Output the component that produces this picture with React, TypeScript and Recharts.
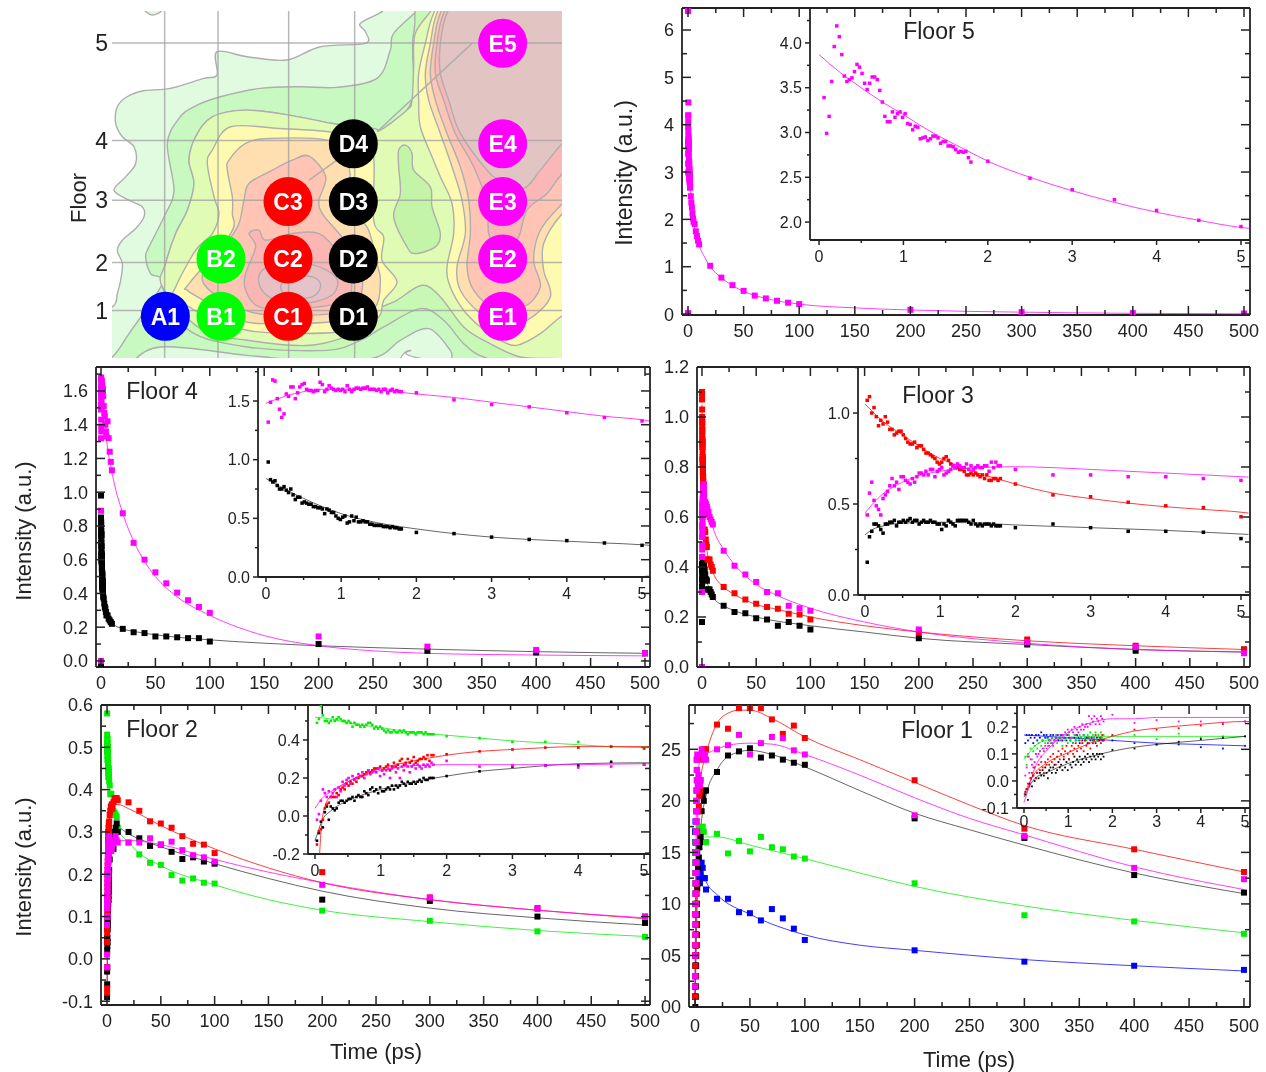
import React from "react";
import { ScatterChart, Scatter, XAxis, YAxis } from "recharts";

// shared time grids (ps)
const T_DENSE = [0.03, 0.06, 0.09, 0.12, 0.15, 0.18, 0.21, 0.24, 0.27, 0.3, 0.33, 0.36, 0.39, 0.42, 0.45, 0.48, 0.51, 0.54, 0.57, 0.6, 0.63, 0.66, 0.69, 0.72, 0.75, 0.78, 0.81, 0.84, 0.87, 0.9, 0.93, 0.96, 0.99, 1.02, 1.05, 1.08, 1.11, 1.14, 1.17, 1.2, 1.23, 1.26, 1.29, 1.32, 1.35, 1.38, 1.41, 1.44, 1.47, 1.5, 1.53, 1.56, 1.59, 1.62, 1.65, 1.68, 1.71, 1.74, 1.77, 1.8];
const T_INSET = [2, 2.5, 3, 3.5, 4, 4.5, 5];
const T_LONG = [6, 7, 8, 9, 10, 20, 30, 40, 50, 60, 70, 80, 90, 100, 200, 300, 400, 500];

const MAGENTA = "#ff00ff";
const RED = "#ff0000";
const BLACK = "#000000";
const GREEN = "#00ee00";
const BLUE = "#0000ff";

type Pair = [number, number];

// Floor 5
const F5_M = [3.39, 2.99, 3.18, 3.57, 3.96, 4.19, 4.07, 3.87, 3.63, 3.57, 3.59, 3.61, 3.68, 3.76, 3.73, 3.66, 3.55, 3.48, 3.55, 3.62, 3.62, 3.59, 3.47, 3.34, 3.18, 3.12, 3.12, 3.23, 3.17, 3.21, 3.23, 3.17, 3.21, 3.1, 3.09, 3.03, 3.07, 3.06, 2.93, 2.94, 2.95, 2.91, 2.93, 2.96, 2.96, 2.94, 2.88, 2.9, 2.9, 2.85, 2.85, 2.84, 2.81, 2.78, 2.79, 2.78, 2.79, 2.72, 2.67];
const F5_M_TAIL = [2.68, 2.49, 2.36, 2.25, 2.13, 2.02, 1.95];
const F5_M_LONG = [1.9, 1.75, 1.65, 1.55, 1.47, 1.02, 0.77, 0.61, 0.49, 0.39, 0.33, 0.28, 0.24, 0.21, 0.09, 0.04, 0.02, 0.01];
const F5_M_EARLY: Pair[] = [[0, 0.02], [0, 6.4], [0.3, 4.47], [0.2, 4.2]];
const F5_M_FIT: Pair[] = [[0.1, 4], [1, 3.2], [2, 2.68], [3, 2.36], [5, 1.95], [7, 1.7], [10, 1.45], [15, 1.2], [20, 1], [30, 0.77], [40, 0.6], [50, 0.48], [70, 0.33], [100, 0.21], [150, 0.13], [200, 0.085], [300, 0.04], [400, 0.015], [500, 0.005]];
const F5_M_INSET_FIT: Pair[] = [[0, 3.87], [0.25, 3.67], [0.5, 3.5], [0.75, 3.34], [1, 3.2], [1.25, 3.05], [1.5, 2.92], [1.75, 2.8], [2, 2.68], [2.5, 2.5], [3, 2.35], [3.5, 2.22], [4, 2.11], [4.5, 2.02], [5, 1.94], [5.1, 1.93]];

// Floor 4
const F4_M = [1.32, 1.49, 1.68, 1.67, 1.52, 1.43, 1.36, 1.39, 1.56, 1.54, 1.62, 1.62, 1.52, 1.57, 1.62, 1.64, 1.65, 1.6, 1.59, 1.59, 1.58, 1.59, 1.59, 1.66, 1.64, 1.58, 1.6, 1.63, 1.61, 1.6, 1.59, 1.6, 1.59, 1.6, 1.58, 1.63, 1.6, 1.58, 1.6, 1.61, 1.61, 1.6, 1.61, 1.61, 1.62, 1.6, 1.6, 1.6, 1.59, 1.6, 1.58, 1.6, 1.6, 1.57, 1.59, 1.6, 1.58, 1.59, 1.58, 1.58];
const F4_M_TAIL = [1.57, 1.51, 1.47, 1.45, 1.4, 1.36, 1.33];
const F4_M_LONG = [1.42, 1.32, 1.24, 1.18, 1.13, 0.875, 0.7, 0.6, 0.525, 0.46, 0.405, 0.36, 0.32, 0.285, 0.145, 0.085, 0.065, 0.045];
const F4_M_EARLY: Pair[] = [[0, 0], [0, 0.89]];
const F4_K = [0.98, 0.83, 0.81, 0.82, 0.78, 0.75, 0.75, 0.77, 0.74, 0.72, 0.75, 0.7, 0.66, 0.68, 0.68, 0.63, 0.64, 0.63, 0.62, 0.62, 0.6, 0.6, 0.59, 0.59, 0.58, 0.54, 0.58, 0.57, 0.55, 0.55, 0.52, 0.5, 0.49, 0.51, 0.52, 0.46, 0.47, 0.52, 0.48, 0.51, 0.47, 0.47, 0.48, 0.47, 0.47, 0.45, 0.45, 0.44, 0.44, 0.44, 0.44, 0.43, 0.43, 0.43, 0.42, 0.43, 0.42, 0.42, 0.41, 0.41];
const F4_K_TAIL = [0.38, 0.37, 0.34, 0.32, 0.31, 0.29, 0.27];
const F4_K_LONG = [0.27, 0.25, 0.24, 0.23, 0.22, 0.19, 0.17, 0.165, 0.145, 0.145, 0.14, 0.135, 0.135, 0.115, 0.1, 0.06, 0.05, 0.045];
const F4_K_EARLY: Pair[] = [[0, -0.02], [0, 0.85]];
const F4_M_FIT: Pair[] = [[0.1, 1.5], [1, 1.6], [2, 1.56], [5, 1.32], [10, 1.12], [20, 0.875], [30, 0.71], [40, 0.59], [50, 0.5], [70, 0.38], [100, 0.27], [150, 0.15], [200, 0.09], [250, 0.06], [300, 0.045], [400, 0.035], [500, 0.03]];
const F4_K_FIT: Pair[] = [[0, 0.85], [1, 0.55], [2, 0.41], [3, 0.34], [5, 0.28], [10, 0.225], [20, 0.19], [30, 0.175], [50, 0.155], [100, 0.125], [150, 0.105], [200, 0.09], [300, 0.07], [400, 0.055], [500, 0.045]];
const F4_M_INSET_FIT: Pair[] = [[0, 1.48], [0.25, 1.54], [0.5, 1.58], [0.75, 1.6], [1, 1.6], [1.5, 1.59], [2, 1.56], [2.5, 1.53], [3, 1.49], [3.5, 1.45], [4, 1.41], [4.5, 1.37], [5, 1.34], [5.1, 1.33]];
const F4_K_INSET_FIT: Pair[] = [[0, 0.84], [0.25, 0.75], [0.5, 0.67], [0.75, 0.6], [1, 0.54], [1.5, 0.46], [2, 0.41], [2.5, 0.37], [3, 0.34], [3.5, 0.32], [4, 0.305], [4.5, 0.29], [5, 0.275], [5.1, 0.27]];

// Floor 3
const F3_R = [1.07, 1.09, 1, 1.03, 0.98, 0.93, 0.96, 0.94, 0.98, 0.95, 0.91, 0.91, 0.88, 0.89, 0.9, 0.9, 0.88, 0.86, 0.84, 0.83, 0.83, 0.84, 0.81, 0.82, 0.82, 0.8, 0.78, 0.78, 0.77, 0.76, 0.75, 0.73, 0.72, 0.73, 0.75, 0.76, 0.74, 0.72, 0.71, 0.7, 0.7, 0.69, 0.69, 0.68, 0.66, 0.66, 0.67, 0.66, 0.67, 0.66, 0.65, 0.66, 0.64, 0.66, 0.63, 0.63, 0.64, 0.64, 0.63, 0.64];
const F3_R_TAIL = [0.61, 0.55, 0.54, 0.51, 0.49, 0.48, 0.43];
const F3_R_LONG = [0.43, 0.43, 0.41, 0.4, 0.385, 0.32, 0.295, 0.27, 0.253, 0.24, 0.233, 0.213, 0.21, 0.19, 0.14, 0.11, 0.085, 0.07];
const F3_R_EARLY: Pair[] = [[0, 1.1]];
const F3_M = [0.44, 0.56, 0.62, 0.52, 0.49, 0.47, 0.44, 0.53, 0.55, 0.57, 0.6, 0.64, 0.6, 0.62, 0.58, 0.65, 0.65, 0.63, 0.62, 0.61, 0.64, 0.62, 0.65, 0.67, 0.67, 0.66, 0.68, 0.66, 0.69, 0.69, 0.65, 0.68, 0.69, 0.7, 0.66, 0.67, 0.68, 0.69, 0.71, 0.7, 0.72, 0.71, 0.7, 0.7, 0.72, 0.69, 0.71, 0.69, 0.7, 0.71, 0.7, 0.7, 0.71, 0.71, 0.68, 0.73, 0.7, 0.73, 0.71, 0.71];
const F3_M_TAIL = [0.69, 0.66, 0.66, 0.65, 0.65, 0.64, 0.63];
const F3_M_LONG = [0.62, 0.6, 0.59, 0.58, 0.57, 0.465, 0.405, 0.37, 0.34, 0.3, 0.295, 0.245, 0.235, 0.225, 0.15, 0.1, 0.08, 0.055];
const F3_M_EARLY: Pair[] = [[0, 0], [0, 0.3]];
const F3_K = [0.18, 0.32, 0.35, 0.39, 0.39, 0.38, 0.36, 0.34, 0.39, 0.39, 0.4, 0.4, 0.41, 0.38, 0.4, 0.4, 0.41, 0.4, 0.41, 0.42, 0.4, 0.41, 0.41, 0.39, 0.4, 0.41, 0.4, 0.4, 0.41, 0.4, 0.4, 0.39, 0.39, 0.36, 0.39, 0.38, 0.41, 0.4, 0.39, 0.38, 0.41, 0.41, 0.41, 0.41, 0.41, 0.4, 0.39, 0.41, 0.39, 0.38, 0.39, 0.38, 0.39, 0.39, 0.39, 0.38, 0.39, 0.38, 0.38, 0.38];
const F3_K_TAIL = [0.37, 0.39, 0.37, 0.35, 0.35, 0.345, 0.31];
const F3_K_LONG = [0.31, 0.31, 0.3, 0.29, 0.28, 0.245, 0.22, 0.215, 0.195, 0.19, 0.165, 0.18, 0.165, 0.15, 0.115, 0.09, 0.065, 0.07];
const F3_R_FIT: Pair[] = [[0, 1.05], [1, 0.75], [2, 0.61], [3, 0.53], [5, 0.455], [10, 0.38], [20, 0.32], [30, 0.29], [50, 0.25], [70, 0.23], [100, 0.2], [150, 0.165], [200, 0.14], [300, 0.105], [400, 0.085], [500, 0.07]];
const F3_M_FIT: Pair[] = [[1, 0.68], [2, 0.705], [3, 0.69], [5, 0.65], [10, 0.56], [20, 0.47], [30, 0.41], [50, 0.33], [70, 0.285], [100, 0.235], [150, 0.18], [200, 0.14], [300, 0.095], [400, 0.07], [500, 0.06]];
const F3_K_FIT: Pair[] = [[1, 0.4], [2, 0.385], [5, 0.335], [10, 0.28], [20, 0.245], [30, 0.225], [50, 0.2], [100, 0.165], [150, 0.14], [200, 0.115], [300, 0.09], [400, 0.07], [500, 0.06]];
const F3_R_INSET_FIT: Pair[] = [[0, 1.05], [0.25, 0.95], [0.5, 0.88], [0.75, 0.81], [1, 0.75], [1.25, 0.71], [1.5, 0.67], [1.75, 0.64], [2, 0.61], [2.5, 0.56], [3, 0.53], [3.5, 0.505], [4, 0.485], [4.5, 0.47], [5, 0.455], [5.1, 0.45]];
const F3_M_INSET_FIT: Pair[] = [[0, 0.45], [0.1, 0.5], [0.25, 0.56], [0.5, 0.62], [0.75, 0.66], [1, 0.68], [1.25, 0.695], [1.5, 0.7], [2, 0.705], [2.5, 0.7], [3, 0.69], [3.5, 0.68], [4, 0.67], [4.5, 0.66], [5, 0.65], [5.1, 0.648]];
const F3_K_INSET_FIT: Pair[] = [[0, 0.33], [0.1, 0.36], [0.25, 0.38], [0.5, 0.395], [1, 0.4], [1.5, 0.395], [2, 0.385], [3, 0.37], [4, 0.355], [5, 0.335], [5.1, 0.333]];

// Floor 2
const F2_G = [0.49, 0.51, 0.58, 0.53, 0.5, 0.5, 0.49, 0.5, 0.52, 0.5, 0.51, 0.52, 0.51, 0.5, 0.5, 0.49, 0.5, 0.49, 0.47, 0.49, 0.48, 0.48, 0.47, 0.48, 0.47, 0.48, 0.49, 0.49, 0.48, 0.46, 0.47, 0.46, 0.47, 0.46, 0.45, 0.44, 0.45, 0.44, 0.44, 0.45, 0.44, 0.44, 0.45, 0.44, 0.45, 0.44, 0.43, 0.44, 0.44, 0.44, 0.43, 0.44, 0.44, 0.44, 0.43, 0.44, 0.43, 0.43, 0.43, 0.43];
const F2_G_TAIL = [0.42, 0.41, 0.39, 0.39, 0.39, 0.365, 0.36];
const F2_G_LONG = [0.35, 0.345, 0.34, 0.335, 0.31, 0.275, 0.247, 0.227, 0.222, 0.198, 0.185, 0.19, 0.18, 0.178, 0.114, 0.09, 0.065, 0.052];
const F2_R = [-0.15, -0.08, -0.07, -0.02, 0.04, 0.06, 0.07, 0.1, 0.1, 0.1, 0.12, 0.11, 0.14, 0.15, 0.14, 0.17, 0.16, 0.18, 0.17, 0.19, 0.18, 0.2, 0.21, 0.21, 0.22, 0.23, 0.24, 0.23, 0.24, 0.25, 0.25, 0.25, 0.26, 0.24, 0.25, 0.26, 0.27, 0.24, 0.26, 0.28, 0.26, 0.27, 0.29, 0.3, 0.27, 0.28, 0.3, 0.28, 0.29, 0.31, 0.28, 0.29, 0.3, 0.3, 0.31, 0.3, 0.32, 0.29, 0.32, 0.32];
const F2_R_TAIL = [0.325, 0.34, 0.35, 0.36, 0.36, 0.365, 0.355];
const F2_R_LONG = [0.37, 0.38, 0.38, 0.38, 0.375, 0.37, 0.35, 0.325, 0.32, 0.31, 0.29, 0.272, 0.27, 0.25, 0.205, 0.145, 0.12, 0.1];
const F2_M = [-0.02, 0.01, 0.08, 0.14, 0.12, 0.1, 0.13, 0.1, 0.12, 0.14, 0.1, 0.15, 0.13, 0.18, 0.16, 0.19, 0.2, 0.17, 0.21, 0.19, 0.2, 0.22, 0.21, 0.23, 0.2, 0.22, 0.24, 0.22, 0.23, 0.24, 0.23, 0.25, 0.21, 0.24, 0.22, 0.24, 0.25, 0.2, 0.25, 0.26, 0.23, 0.25, 0.2, 0.26, 0.24, 0.27, 0.26, 0.23, 0.26, 0.27, 0.25, 0.27, 0.26, 0.25, 0.27, 0.26, 0.27, 0.26, 0.28, 0.27];
const F2_M_TAIL = [0.29, 0.26, 0.265, 0.265, 0.255, 0.26, 0.27];
const F2_M_LONG = [0.28, 0.28, 0.29, 0.28, 0.275, 0.275, 0.275, 0.285, 0.27, 0.277, 0.257, 0.245, 0.24, 0.23, 0.175, 0.145, 0.118, 0.1];
const F2_K = [-0.13, -0.09, -0.03, -0.06, 0.02, 0.05, -0.02, 0.05, 0.04, 0.03, 0.04, 0.07, 0.08, 0.08, 0.07, 0.08, 0.09, 0.09, 0.1, 0.08, 0.1, 0.11, 0.1, 0.1, 0.13, 0.12, 0.11, 0.14, 0.15, 0.13, 0.14, 0.12, 0.15, 0.13, 0.13, 0.14, 0.15, 0.14, 0.16, 0.14, 0.16, 0.15, 0.16, 0.18, 0.17, 0.16, 0.18, 0.17, 0.17, 0.18, 0.17, 0.18, 0.19, 0.18, 0.2, 0.19, 0.19, 0.2, 0.2, 0.2];
const F2_K_TAIL = [0.21, 0.235, 0.26, 0.265, 0.265, 0.285, 0.27];
const F2_K_LONG = [0.26, 0.3, 0.31, 0.32, 0.3, 0.3, 0.285, 0.267, 0.27, 0.253, 0.236, 0.24, 0.23, 0.225, 0.14, 0.137, 0.1, 0.085];
const F2_G_FIT: Pair[] = [[0, 0.52], [1, 0.465], [2, 0.425], [5, 0.36], [10, 0.31], [20, 0.275], [30, 0.25], [50, 0.22], [100, 0.175], [150, 0.14], [200, 0.115], [300, 0.088], [400, 0.067], [500, 0.053]];
const F2_R_FIT: Pair[] = [[0, -0.1], [1, 0.25], [2, 0.32], [5, 0.365], [10, 0.365], [20, 0.355], [50, 0.315], [100, 0.26], [150, 0.215], [200, 0.18], [300, 0.14], [400, 0.115], [500, 0.095]];
const F2_M_FIT: Pair[] = [[0, 0], [1, 0.24], [2, 0.27], [5, 0.275], [10, 0.28], [20, 0.28], [50, 0.27], [100, 0.235], [150, 0.205], [200, 0.18], [300, 0.14], [400, 0.115], [500, 0.097]];
const F2_K_FIT: Pair[] = [[0, -0.1], [1, 0.14], [2, 0.21], [5, 0.28], [10, 0.31], [20, 0.295], [50, 0.265], [100, 0.225], [150, 0.19], [200, 0.16], [300, 0.12], [400, 0.097], [500, 0.08]];
const F2_G_INSET_FIT: Pair[] = [[0, 0.52], [0.25, 0.51], [0.5, 0.49], [1, 0.465], [1.5, 0.44], [2, 0.425], [2.5, 0.41], [3, 0.395], [3.5, 0.385], [4, 0.375], [4.5, 0.365], [5, 0.36], [5.1, 0.36]];
const F2_R_INSET_FIT: Pair[] = [[0.07, -0.2], [0.1, -0.05], [0.15, 0.05], [0.25, 0.11], [0.5, 0.18], [0.75, 0.22], [1, 0.25], [1.5, 0.29], [2, 0.32], [2.5, 0.34], [3, 0.35], [4, 0.365], [5, 0.365], [5.1, 0.365]];
const F2_M_INSET_FIT: Pair[] = [[0, 0.04], [0.1, 0.09], [0.25, 0.13], [0.5, 0.18], [0.75, 0.215], [1, 0.24], [1.25, 0.255], [1.5, 0.265], [2, 0.27], [3, 0.27], [4, 0.27], [5, 0.275], [5.1, 0.275]];
const F2_K_INSET_FIT: Pair[] = [[0, -0.13], [0.05, -0.08], [0.1, -0.03], [0.25, 0.03], [0.5, 0.08], [1, 0.14], [1.5, 0.18], [2, 0.21], [2.5, 0.235], [3, 0.25], [3.5, 0.265], [4, 0.275], [5, 0.28], [5.1, 0.28]];

// Floor 1
const F1_B = [0.14, 0.17, 0.15, 0.17, 0.16, 0.17, 0.14, 0.16, 0.17, 0.15, 0.17, 0.16, 0.18, 0.15, 0.17, 0.16, 0.17, 0.16, 0.15, 0.17, 0.16, 0.17, 0.15, 0.16, 0.17, 0.15, 0.16, 0.17, 0.15, 0.16, 0.16, 0.15, 0.17, 0.16, 0.15, 0.16, 0.14, 0.16, 0.15, 0.17, 0.16, 0.14, 0.16, 0.15, 0.17, 0.15, 0.16, 0.14, 0.16, 0.15, 0.16, 0.15, 0.16, 0.14, 0.16, 0.15, 0.15, 0.16, 0.15, 0.15];
const F1_B_TAIL = [0.15, 0.14, 0.135, 0.135, 0.125, 0.12, 0.13];
const F1_B_LONG = [0.14, 0.135, 0.125, 0.125, 0.114, 0.105, 0.105, 0.092, 0.091, 0.084, 0.095, 0.086, 0.076, 0.065, 0.055, 0.044, 0.04, 0.036];
const F1_G = [0.09, 0.06, 0.1, 0.09, 0.12, 0.08, 0.11, 0.13, 0.1, 0.12, 0.14, 0.11, 0.13, 0.15, 0.12, 0.14, 0.16, 0.13, 0.15, 0.14, 0.16, 0.14, 0.15, 0.17, 0.14, 0.16, 0.15, 0.16, 0.13, 0.17, 0.15, 0.16, 0.14, 0.17, 0.15, 0.16, 0.14, 0.17, 0.15, 0.16, 0.15, 0.17, 0.16, 0.14, 0.17, 0.16, 0.15, 0.17, 0.16, 0.18, 0.15, 0.17, 0.16, 0.18, 0.15, 0.17, 0.16, 0.18, 0.16, 0.17];
const F1_G_TAIL = [0.17, 0.17, 0.155, 0.175, 0.16, 0.165, 0.165];
const F1_G_LONG = [0.17, 0.175, 0.17, 0.16, 0.16, 0.168, 0.149, 0.161, 0.151, 0.165, 0.155, 0.153, 0.146, 0.144, 0.12, 0.089, 0.083, 0.071];
const F1_K = [-0.05, -0.03, -0.07, -0.01, 0.01, -0.02, 0.02, 0, 0.01, 0.03, 0.01, 0.03, 0.02, 0.04, 0.02, 0.05, 0.03, 0.01, 0.04, 0.05, 0.03, 0.05, 0.06, 0.03, 0.04, 0.07, 0.05, 0.06, 0.04, 0.08, 0.05, 0.07, 0.04, 0.08, 0.06, 0.05, 0.07, 0.09, 0.06, 0.08, 0.07, 0.09, 0.06, 0.08, 0.07, 0.09, 0.08, 0.1, 0.07, 0.09, 0.08, 0.1, 0.09, 0.08, 0.1, 0.09, 0.1, 0.08, 0.1, 0.09];
const F1_K_TAIL = [0.115, 0.12, 0.135, 0.145, 0.155, 0.16, 0.165];
const F1_K_LONG = [0.19, 0.205, 0.2, 0.21, 0.21, 0.228, 0.244, 0.248, 0.251, 0.242, 0.244, 0.24, 0.237, 0.235, 0.183, 0.164, 0.128, 0.111];
const F1_R = [-0.04, -0.03, -0.01, -0.02, 0.01, 0.03, 0.02, 0.05, 0.01, 0.03, 0.06, 0.04, 0.07, 0.05, 0.03, 0.07, 0.06, 0.08, 0.06, 0.09, 0.07, 0.1, 0.08, 0.06, 0.09, 0.11, 0.08, 0.1, 0.12, 0.09, 0.11, 0.13, 0.1, 0.08, 0.11, 0.13, 0.1, 0.12, 0.14, 0.11, 0.13, 0.15, 0.12, 0.14, 0.11, 0.15, 0.13, 0.16, 0.14, 0.12, 0.16, 0.14, 0.15, 0.17, 0.13, 0.15, 0.16, 0.14, 0.17, 0.15];
const F1_R_TAIL = [0.17, 0.19, 0.19, 0.195, 0.205, 0.21, 0.22];
const F1_R_LONG = [0.24, 0.245, 0.25, 0.25, 0.25, 0.274, 0.27, 0.29, 0.29, 0.29, 0.279, 0.265, 0.273, 0.261, 0.22, 0.173, 0.153, 0.131];
const F1_M = [0.02, 0.05, 0.09, 0.03, 0.08, 0.06, 0.05, 0.07, 0.1, 0.09, 0.1, 0.11, 0.09, 0.12, 0.11, 0.13, 0.12, 0.14, 0.13, 0.15, 0.14, 0.13, 0.15, 0.16, 0.15, 0.17, 0.16, 0.15, 0.17, 0.16, 0.18, 0.17, 0.19, 0.18, 0.16, 0.19, 0.18, 0.2, 0.17, 0.19, 0.18, 0.2, 0.19, 0.21, 0.19, 0.2, 0.21, 0.2, 0.24, 0.21, 0.23, 0.22, 0.24, 0.21, 0.23, 0.22, 0.21, 0.24, 0.23, 0.22];
const F1_M_TAIL = [0.245, 0.215, 0.225, 0.22, 0.22, 0.215, 0.22];
const F1_M_LONG = [0.25, 0.245, 0.24, 0.245, 0.24, 0.25, 0.254, 0.264, 0.245, 0.256, 0.262, 0.261, 0.249, 0.245, 0.186, 0.166, 0.135, 0.124];
const F1_R_FIT: Pair[] = [[0, 0], [2, 0.17], [5, 0.22], [10, 0.245], [20, 0.275], [30, 0.285], [40, 0.288], [50, 0.288], [70, 0.28], [100, 0.262], [150, 0.24], [200, 0.218], [250, 0.196], [300, 0.176], [400, 0.153], [500, 0.131]];
const F1_M_FIT: Pair[] = [[0, 0], [1, 0.17], [2, 0.22], [5, 0.24], [10, 0.245], [20, 0.25], [30, 0.254], [50, 0.256], [70, 0.255], [100, 0.245], [150, 0.225], [200, 0.203], [250, 0.183], [300, 0.167], [400, 0.136], [500, 0.114]];
const F1_K_FIT: Pair[] = [[0, 0], [2, 0.1], [5, 0.17], [10, 0.205], [20, 0.23], [30, 0.243], [50, 0.249], [70, 0.245], [100, 0.233], [150, 0.21], [200, 0.188], [250, 0.172], [300, 0.157], [400, 0.13], [500, 0.11]];
const F1_G_FIT: Pair[] = [[0, 0], [1, 0.09], [2, 0.13], [5, 0.16], [10, 0.165], [20, 0.165], [50, 0.157], [100, 0.144], [150, 0.13], [200, 0.117], [300, 0.098], [400, 0.084], [500, 0.072]];
const F1_B_FIT: Pair[] = [[0, 0], [1, 0.13], [3, 0.15], [5, 0.14], [10, 0.122], [20, 0.109], [50, 0.09], [100, 0.07], [150, 0.06], [200, 0.055], [300, 0.046], [400, 0.04], [500, 0.035]];
const F1_R_INSET_FIT: Pair[] = [[0, -0.05], [0.25, 0.03], [0.5, 0.065], [1, 0.105], [1.5, 0.14], [2, 0.165], [2.5, 0.185], [3, 0.195], [4, 0.21], [5, 0.22], [5.1, 0.22]];
const F1_M_INSET_FIT: Pair[] = [[0, -0.08], [0.1, -0.03], [0.25, 0.05], [0.5, 0.11], [0.75, 0.15], [1, 0.18], [1.5, 0.215], [2, 0.23], [2.5, 0.23], [3, 0.235], [4, 0.235], [5, 0.235], [5.1, 0.235]];
const F1_K_INSET_FIT: Pair[] = [[0, -0.06], [0.25, 0.01], [0.5, 0.03], [1, 0.065], [1.5, 0.09], [2, 0.11], [2.5, 0.125], [3, 0.135], [4, 0.15], [5, 0.165]];
const F1_G_INSET_FIT: Pair[] = [[0, 0.08], [0.1, 0.1], [0.25, 0.13], [0.5, 0.15], [1, 0.16], [1.5, 0.165], [2, 0.165], [3, 0.165], [5, 0.165]];
const F1_B_INSET_FIT: Pair[] = [[0, 0.17], [0.5, 0.165], [1, 0.16], [1.5, 0.155], [2, 0.15], [3, 0.14], [4, 0.135], [5, 0.13]];

// axis ticks
const MAIN_X_TICKS = [0, 25, 50, 75, 100, 125, 150, 175, 200, 225, 250, 275, 300, 325, 350, 375, 400, 425, 450, 475, 500];
const MAIN_X_MAJOR = [0, 50, 100, 150, 200, 250, 300, 350, 400, 450, 500];
const INSET_X_TICKS = [0, 0.5, 1, 1.5, 2, 2.5, 3, 3.5, 4, 4.5, 5];
const INSET_X_MAJOR = [0, 1, 2, 3, 4, 5];

const F5_Y_TICKS = [0, 0.5, 1, 1.5, 2, 2.5, 3, 3.5, 4, 4.5, 5, 5.5, 6];
const F5_Y_MAJOR = [0, 1, 2, 3, 4, 5, 6];
const F5_Y_LABELS = ["0", "1", "2", "3", "4", "5", "6"];
const F5_IN_TICKS = [2, 2.25, 2.5, 2.75, 3, 3.25, 3.5, 3.75, 4, 4.25];
const F5_IN_MAJOR = [2, 2.5, 3, 3.5, 4];
const F5_IN_LABELS = ["2.0", "2.5", "3.0", "3.5", "4.0"];
const F4_Y_TICKS = [0, 0.1, 0.2, 0.3, 0.4, 0.5, 0.6, 0.7, 0.8, 0.9, 1, 1.1, 1.2, 1.3, 1.4, 1.5, 1.6, 1.7];
const F4_Y_MAJOR = [0, 0.2, 0.4, 0.6, 0.8, 1, 1.2, 1.4, 1.6];
const F4_Y_LABELS = ["0.0", "0.2", "0.4", "0.6", "0.8", "1.0", "1.2", "1.4", "1.6"];
const F4_IN_TICKS = [0, 0.25, 0.5, 0.75, 1, 1.25, 1.5, 1.75];
const F4_IN_MAJOR = [0, 0.5, 1, 1.5];
const F4_IN_LABELS = ["0.0", "0.5", "1.0", "1.5"];
const F3_Y_TICKS = [0, 0.1, 0.2, 0.3, 0.4, 0.5, 0.6, 0.7, 0.8, 0.9, 1, 1.1, 1.2];
const F3_Y_MAJOR = [0, 0.2, 0.4, 0.6, 0.8, 1, 1.2];
const F3_Y_LABELS = ["0.0", "0.2", "0.4", "0.6", "0.8", "1.0", "1.2"];
const F3_IN_TICKS = [0, 0.25, 0.5, 0.75, 1, 1.25];
const F3_IN_MAJOR = [0, 0.5, 1];
const F3_IN_LABELS = ["0.0", "0.5", "1.0"];
const F2_Y_TICKS = [-0.1, -0.05, 0, 0.05, 0.1, 0.15, 0.2, 0.25, 0.3, 0.35, 0.4, 0.45, 0.5, 0.55, 0.6];
const F2_Y_MAJOR = [-0.1, 0, 0.1, 0.2, 0.3, 0.4, 0.5, 0.6];
const F2_Y_LABELS = ["-0.1", "0.0", "0.1", "0.2", "0.3", "0.4", "0.5", "0.6"];
const F2_IN_TICKS = [-0.2, -0.1, 0, 0.1, 0.2, 0.3, 0.4, 0.5];
const F2_IN_MAJOR = [-0.2, 0, 0.2, 0.4];
const F2_IN_LABELS = ["-0.2", "0.0", "0.2", "0.4"];
const F1_Y_TICKS = [0, 0.025, 0.05, 0.075, 0.1, 0.125, 0.15, 0.175, 0.2, 0.225, 0.25, 0.275];
const F1_Y_MAJOR = [0, 0.05, 0.1, 0.15, 0.2, 0.25];
const F1_Y_LABELS = ["00", "05", "10", "15", "20", "25"];
const F1_IN_TICKS = [-0.1, -0.05, 0, 0.05, 0.1, 0.15, 0.2, 0.25];
const F1_IN_MAJOR = [-0.1, 0, 0.1, 0.2];
const F1_IN_LABELS = ["-0.1", "0.0", "0.1", "0.2"];

// contour map, in map grid units
const MAP_GRID_X = [313, 473, 685, 883];
const MAP_FLOOR_POS = [129, 421, 600, 787, 931];
const MAP_FLOOR_LABELS = ["5", "4", "3", "2", "1"];
const MAP_X_RANGE = [155, 1505];
const MAP_Y_RANGE = [33, 1073];
const MAP_DIAGONAL: Pair[] = [[950, 395], [1235, 130]];
const MAP_DIAGONAL2: Pair[] = [[746, 540], [830, 480]];
const L1A: Pair[] = [[60, 960], [156, 920], [171, 880], [181, 840], [186, 790], [171, 750], [186, 720], [226, 685], [251, 650], [246, 620], [206, 600], [161, 570], [196, 530], [226, 490], [221, 440], [186, 410], [166, 370], [171, 320], [200, 290], [250, 272], [330, 265], [430, 235], [470, 225], [470, 155], [560, 170], [680, 180], [780, 140], [915, 130], [915, 95], [900, 70], [965, 35], [1000, 0], [1600, -50], [1600, 1150], [1085, 1075], [1050, 1050], [1020, 1075], [1000, 1150], [60, 1150]];
const L1B: Pair[] = [[250, 25], [275, 45], [305, 30], [280, 10]];
const L2: Pair[] = [[70, 1130], [156, 1070], [206, 1000], [306, 850], [271, 820], [256, 770], [266, 740], [316, 640], [341, 570], [321, 430], [356, 355], [400, 320], [480, 290], [600, 265], [720, 260], [830, 262], [950, 235], [990, 150], [1000, 100], [1080, 20], [1110, -50], [1600, -50], [1600, 1020], [1505, 1050], [1340, 1090], [1190, 1090], [1170, 1050], [1105, 985], [1020, 1020], [950, 1070], [800, 1085], [560, 1065], [300, 1040], [190, 1100]];
const L2B: Pair[] = [[306, 860], [386, 990], [560, 1040], [800, 1050], [900, 1020], [970, 980], [1080, 925], [1150, 960], [1210, 1030], [1270, 1070], [1400, 1100], [1600, 1060], [1600, -50], [1130, -50], [1060, 100], [1055, 300], [960, 390], [816, 370], [686, 345], [556, 330], [456, 350], [406, 410], [386, 480], [401, 550], [381, 630], [346, 700], [316, 790]];
const L3: Pair[] = [[306, 860], [316, 790], [346, 700], [381, 630], [401, 550], [386, 480], [406, 410], [456, 350], [556, 330], [686, 345], [816, 370], [940, 385], [960, 390], [1040, 330], [1055, 300], [1060, 200], [1065, 100], [1120, 20], [1140, -50], [1600, -50], [1600, 1090], [1490, 1075], [1380, 1070], [1280, 1025], [1210, 980], [1140, 890], [1085, 855], [1010, 900], [950, 930], [900, 990], [750, 1035], [560, 1020], [420, 985]];
const ISLAND: Pair[] = [[1015, 450], [1035, 435], [1055, 460], [1060, 510], [1110, 560], [1115, 620], [1140, 700], [1125, 740], [1065, 760], [1040, 740], [1000, 650], [1020, 580], [1015, 500]];
const L4_LEFT: Pair[] = [[346, 890], [346, 860], [406, 750], [456, 700], [476, 640], [461, 590], [441, 490], [456, 450], [511, 380], [656, 385], [806, 395], [905, 420], [940, 470], [940, 660], [970, 710], [965, 780], [1010, 845], [970, 900], [955, 950], [880, 990], [700, 1000], [560, 990], [440, 950]];
const L4_RIGHT: Pair[] = [[1180, -50], [1120, 40], [1095, 130], [1075, 220], [1075, 300], [1080, 380], [1115, 470], [1140, 530], [1175, 610], [1180, 700], [1160, 800], [1170, 860], [1210, 930], [1260, 980], [1320, 1020], [1370, 1035], [1440, 1000], [1500, 950], [1600, 880], [1600, -50]];
const L5_LEFT: Pair[] = [[381, 870], [386, 850], [511, 700], [516, 640], [516, 590], [501, 510], [506, 480], [556, 430], [626, 415], [800, 420], [860, 470], [880, 620], [925, 690], [950, 790], [960, 840], [945, 920], [860, 960], [650, 970], [540, 960], [430, 900]];
const L5_RIGHT: Pair[] = [[1190, -50], [1130, 40], [1110, 130], [1095, 220], [1105, 300], [1140, 400], [1175, 500], [1205, 600], [1215, 700], [1190, 800], [1200, 870], [1260, 940], [1320, 970], [1400, 960], [1470, 890], [1450, 810], [1450, 730], [1506, 640], [1600, 560], [1600, -50]];
const L6_LEFT: Pair[] = [[426, 840], [506, 720], [536, 670], [551, 600], [566, 550], [636, 510], [696, 480], [746, 468], [796, 530], [776, 600], [786, 640], [836, 700], [876, 750], [900, 800], [905, 870], [870, 930], [700, 945], [556, 930]];
const L6_RIGHT: Pair[] = [[1200, -50], [1140, 40], [1120, 130], [1110, 220], [1125, 300], [1160, 400], [1200, 500], [1225, 600], [1230, 700], [1220, 800], [1240, 870], [1300, 920], [1390, 920], [1440, 860], [1420, 780], [1440, 690], [1506, 610], [1600, 520], [1600, -50]];
const L7_LEFT: Pair[] = [[566, 700], [596, 690], [616, 720], [696, 700], [776, 700], [836, 760], [870, 830], [870, 880], [830, 910], [700, 925], [596, 920], [556, 870], [556, 820], [586, 740]];
const L7_RIGHT: Pair[] = [[1210, -50], [1150, 40], [1130, 130], [1125, 220], [1150, 300], [1185, 400], [1240, 500], [1280, 610], [1285, 700], [1310, 740], [1370, 720], [1400, 630], [1460, 580], [1506, 520], [1600, 430], [1600, -50]];
const L8_LEFT: Pair[] = [[606, 810], [656, 790], [746, 790], [826, 830], [820, 880], [760, 905], [686, 910], [626, 890], [596, 850]];
const L8_INNER: Pair[] = [[661, 860], [686, 830], [756, 830], [781, 855], [756, 890], [686, 890]];
const L8_RIGHT: Pair[] = [[1220, -50], [1160, 40], [1140, 130], [1140, 220], [1165, 300], [1200, 400], [1280, 510], [1320, 540], [1390, 565], [1440, 510], [1506, 430], [1600, 340], [1600, -50]];

const MAP_LEVELS: [Pair[], string][] = [
  [L1A, "#e0fbe0"], [L1B, "#e0fbe0"], [L2, "#c8f9c0"], [L2B, "#c8f9b4"], [L3, "#e0fbb4"], [ISLAND, "#c4f4a8"],
  [L4_LEFT, "#fefbb0"], [L4_RIGHT, "#fefbb0"], [L5_LEFT, "#ffdfb0"], [L5_RIGHT, "#ffdfb0"],
  [L6_LEFT, "#ffc4b4"], [L6_RIGHT, "#ffc4b4"], [L7_LEFT, "#fbb6b4"], [L7_RIGHT, "#fbb6b8"],
  [L8_LEFT, "#e8c0c4"], [L8_INNER, "#e4c4c8"], [L8_RIGHT, "#e2c4c2"],
];

const MAP_SITES = [
  { x: 315, y: 948, name: "A1", color: BLUE }, { x: 482, y: 948, name: "B1", color: "#00ff00" }, { x: 482, y: 776, name: "B2", color: "#00ff00" },
  { x: 683, y: 948, name: "C1", color: RED }, { x: 683, y: 776, name: "C2", color: RED }, { x: 683, y: 604, name: "C3", color: RED },
  { x: 879, y: 948, name: "D1", color: BLACK }, { x: 879, y: 776, name: "D2", color: BLACK }, { x: 879, y: 604, name: "D3", color: BLACK }, { x: 879, y: 431, name: "D4", color: BLACK },
  { x: 1327, y: 948, name: "E1", color: MAGENTA }, { x: 1327, y: 776, name: "E2", color: MAGENTA }, { x: 1327, y: 604, name: "E3", color: MAGENTA }, { x: 1327, y: 431, name: "E4", color: MAGENTA }, { x: 1327, y: 130, name: "E5", color: MAGENTA },
];

const FONT = '"Liberation Sans", Arial, sans-serif';
const INK = "#222";
const AXIS = "#222";

const zip = (xs: number[], ys: number[]) => ys.slice(0, xs.length).map((y, i) => ({ x: xs[i], y }));
const pairs = (p: Pair[]) => p.map(([x, y]) => ({ x, y }));

type Series = { color: string; pts: { x: number; y: number }[]; fit: { x: number; y: number }[] };

function mainSeries(color: string, dense: number[], tail: number[], long: number[], fit: Pair[], early: Pair[] = [], t = T_DENSE): Series {
  return { color, pts: [...pairs(early), ...zip(t, dense), ...zip(T_INSET, tail), ...zip(T_LONG, long)], fit: pairs(fit) };
}
function insetSeries(color: string, dense: number[], tail: number[], fit: Pair[], t = T_DENSE): Series {
  return { color, pts: [...zip(t, dense), ...zip(T_INSET, tail)], fit: pairs(fit) };
}

const empty = () => <g />;
const square = (size: number, color: string) => (p: any) => (
  <rect x={p.cx - size / 2} y={p.cy - size / 2} width={size} height={size} fill={color} />
);

// draws tick mark and label together so ticks can point inward while labels stay outside
function makeTick(orient: string, major: number[], labels: string[] | null, fontSize: number, opts: { inward: boolean; gap: number; long: number; short: number }) {
  return (p: any) => {
    const v = p.payload.value;
    const i = major.findIndex((m) => Math.abs(m - v) < 1e-6);
    const len = i >= 0 ? opts.long : opts.short;
    const d = opts.inward ? len : -len;
    const text = i >= 0 && labels ? labels[i] : null;
    const stroke = { stroke: AXIS, strokeWidth: 1.5 };
    if (orient === "left" || orient === "right") {
      const sign = orient === "left" ? 1 : -1;
      return (
        <g>
          <line x1={p.x} x2={p.x + sign * d} y1={p.y} y2={p.y} {...stroke} />
          {text && <text x={p.x - opts.gap} y={p.y} dy="0.36em" textAnchor="end" fontSize={fontSize} fontFamily={FONT} fill={INK}>{text}</text>}
        </g>
      );
    }
    const sign = orient === "bottom" ? -1 : 1;
    return (
      <g>
        <line x1={p.x} x2={p.x} y1={p.y} y2={p.y + sign * d} {...stroke} />
        {text && <text x={p.x} y={p.y + opts.gap} dy="0.36em" textAnchor="middle" fontSize={fontSize} fontFamily={FONT} fill={INK}>{text}</text>}
      </g>
    );
  };
}

type PanelProps = {
  l: number; r: number; t: number; b: number;
  xDomain: number[]; yDomain: number[];
  xTicks: number[]; xMajor: number[];
  yTicks: number[]; yMajor: number[]; yLabels: string[];
  series: Series[];
  inset?: boolean; xGap?: number; mark?: number;
};

function Panel({ l, r, t, b, xDomain, yDomain, xTicks, xMajor, yTicks, yMajor, yLabels, series, inset, xGap = 16, mark }: PanelProps) {
  const gutter = 46;
  const top = 10;
  const right = Math.min(16, 1266 - r);
  const bottom = 32;
  const fs = inset ? 16 : 18;
  const size = mark ?? (inset ? 3.5 : 6);
  const inner = { inward: true, gap: 8, long: 9, short: 5 };
  const xLabels = xMajor.map(String);
  const outer = { inward: false, gap: 8, long: 5, short: 3 };
  const axisLine = { stroke: AXIS, strokeWidth: 1.8 };
  // mirror axes need a non-zero size to draw, so they take 1px out of the margins
  const margin = inset ? { top, right, bottom: 0, left: 0 } : { top: top - 1, right: right - 1, bottom: 0, left: 0 };
  return (
    <div style={{ position: "absolute", left: l - gutter, top: t - top }}>
      <ScatterChart width={r - l + gutter + right} height={b - t + top + bottom} margin={margin}>
        <XAxis xAxisId={0} type="number" dataKey="x" domain={xDomain} allowDataOverflow orientation="bottom" height={bottom}
          ticks={xTicks} interval={0} tickSize={0} tickMargin={0} axisLine={axisLine} tickLine={false}
          tick={makeTick("bottom", xMajor, xLabels, fs, inset ? { ...outer, gap: xGap } : { ...inner, gap: xGap })} />
        <YAxis yAxisId={0} type="number" dataKey="y" domain={yDomain} allowDataOverflow orientation="left" width={gutter}
          ticks={yTicks} interval={0} tickSize={0} tickMargin={0} axisLine={axisLine} tickLine={false}
          tick={makeTick("left", yMajor, yLabels, fs, inset ? outer : inner)} />
        {!inset && (
          <XAxis xAxisId="top" type="number" dataKey="x" domain={xDomain} allowDataOverflow orientation="top" height={1}
            ticks={xTicks} interval={0} tickSize={0} tickMargin={0} axisLine={axisLine} tickLine={false}
            tick={makeTick("top", xMajor, null, fs, inner)} />
        )}
        {!inset && (
          <YAxis yAxisId="right" type="number" dataKey="y" domain={yDomain} allowDataOverflow orientation="right" width={1}
            ticks={yTicks} interval={0} tickSize={0} tickMargin={0} axisLine={axisLine} tickLine={false}
            tick={makeTick("right", yMajor, null, fs, inner)} />
        )}
        {!inset && (
          <Scatter data={series[0].pts} xAxisId="top" yAxisId="right" shape={empty} isAnimationActive={false} />
        )}
        {series.map((s, i) => (
          <Scatter key={"fit" + i} data={s.fit} xAxisId={0} yAxisId={0} fill={s.color} shape={empty}
            line={{ stroke: s.color, strokeWidth: 1, strokeOpacity: s.color === BLACK ? 0.6 : 0.75 }} lineJointType="monotone" isAnimationActive={false} />
        ))}
        {series.map((s, i) => (
          <Scatter key={"pts" + i} data={s.pts} xAxisId={0} yAxisId={0} fill={s.color} shape={square(size, s.color)} isAnimationActive={false} />
        ))}
      </ScatterChart>
    </div>
  );
}

// closed Catmull-Rom path through the points the library has already scaled
function closedPath(pts: { x: number; y: number }[]) {
  const n = pts.length;
  let d = `M${pts[0].x},${pts[0].y}`;
  for (let i = 0; i < n; i++) {
    const p0 = pts[(i - 1 + n) % n];
    const p1 = pts[i];
    const p2 = pts[(i + 1) % n];
    const p3 = pts[(i + 2) % n];
    d += `C${p1.x + (p2.x - p0.x) / 6},${p1.y + (p2.y - p0.y) / 6} ${p2.x - (p3.x - p1.x) / 6},${p2.y - (p3.y - p1.y) / 6} ${p2.x},${p2.y}`;
  }
  return d + "Z";
}

const blob = (fill: string) => (p: any) => (
  <path d={closedPath(p.points)} fill={fill} stroke="#aeaeae" strokeWidth={1.4} />
);
const site = (p: any) => (
  <g>
    <circle cx={p.cx} cy={p.cy} r={24.5} fill={p.payload.color} />
    <text x={p.cx} y={p.cy} dy="0.36em" textAnchor="middle" fontSize={23} fontWeight={700} fontFamily={FONT} fill="#fff">{p.payload.name}</text>
  </g>
);

function FloorMap() {
  const left = 50;
  return (
    <div style={{ position: "absolute", left: 112 - left, top: 11 - 8 }}>
      <ScatterChart width={450 + left + 4} height={347 + 8 + 4} margin={{ top: 8, right: 4, bottom: 4, left: 0 }}>
        <XAxis type="number" dataKey="x" domain={MAP_X_RANGE} allowDataOverflow hide />
        <YAxis type="number" dataKey="y" domain={MAP_Y_RANGE} allowDataOverflow reversed width={left} ticks={MAP_FLOOR_POS} interval={0}
          axisLine={false} tickLine={false} tickSize={0} tickMargin={0}
          tick={makeTick("left", MAP_FLOOR_POS, MAP_FLOOR_LABELS, 23, { inward: true, gap: 4, long: 0, short: 0 })} />
        {MAP_LEVELS.map(([poly, fill], i) => (
          <Scatter key={i} data={pairs(poly)} shape={empty} line={blob(fill)} isAnimationActive={false} />
        ))}
        {[MAP_DIAGONAL, MAP_DIAGONAL2].map((d, i) => (
          <Scatter key={"d" + i} data={pairs(d)} shape={empty} line={{ stroke: "#aeaeae", strokeWidth: 1.4 }} isAnimationActive={false} />
        ))}
        {MAP_GRID_X.map((x) => (
          <Scatter key={"gx" + x} data={[{ x, y: MAP_Y_RANGE[0] }, { x, y: MAP_Y_RANGE[1] }]} shape={empty} line={{ stroke: "#a0a0a0", strokeOpacity: 0.75, strokeWidth: 1.5 }} isAnimationActive={false} />
        ))}
        {MAP_FLOOR_POS.map((y) => (
          <Scatter key={"gy" + y} data={[{ x: MAP_X_RANGE[0], y }, { x: MAP_X_RANGE[1], y }]} shape={empty} line={{ stroke: "#a0a0a0", strokeOpacity: 0.75, strokeWidth: 1.5 }} isAnimationActive={false} />
        ))}
        <Scatter data={MAP_SITES} shape={site} isAnimationActive={false} />
      </ScatterChart>
    </div>
  );
}

const Caption = ({ x, y, size = 23, rotate, children }: { x: number; y: number; size?: number; rotate?: boolean; children: string }) => (
  <div style={{ position: "absolute", left: x, top: y, fontFamily: FONT, fontSize: size, color: INK, whiteSpace: "nowrap", lineHeight: 1, transform: `translate(-50%,-50%)${rotate ? " rotate(-90deg)" : ""}` }}>
    {children}
  </div>
);

export default function App() {
  const f5Early = T_DENSE.slice(1);
  return (
    <div style={{ position: "absolute", left: 0, top: 0, width: 1266, height: 1072, overflow: "hidden", background: "#fff", filter: "blur(0.5px)" }}>
      <FloorMap />

      {/* Floor 5 */}
      <Panel l={682} r={1250} t={8} b={315} xDomain={[-5.4, 505.4]} yDomain={[-0.02, 6.465]} xTicks={MAIN_X_TICKS} xMajor={MAIN_X_MAJOR}
        yTicks={F5_Y_TICKS} yMajor={F5_Y_MAJOR} yLabels={F5_Y_LABELS}
        series={[mainSeries(MAGENTA, F5_M, F5_M_TAIL, F5_M_LONG, F5_M_FIT, F5_M_EARLY, f5Early)]} />
      <Panel inset l={810} r={1250} t={8} b={240} xDomain={[-0.107, 5.107]} yDomain={[1.8, 4.39]} xTicks={INSET_X_TICKS} xMajor={INSET_X_MAJOR}
        yTicks={F5_IN_TICKS} yMajor={F5_IN_MAJOR} yLabels={F5_IN_LABELS}
        series={[insetSeries(MAGENTA, F5_M, F5_M_TAIL, F5_M_INSET_FIT, f5Early)]} />

      {/* Floor 4 */}
      <Panel l={96} r={650} t={367} b={667} xDomain={[-4.6, 504.6]} yDomain={[-0.036, 1.742]} xTicks={MAIN_X_TICKS} xMajor={MAIN_X_MAJOR}
        yTicks={F4_Y_TICKS} yMajor={F4_Y_MAJOR} yLabels={F4_Y_LABELS}
        series={[mainSeries(BLACK, F4_K, F4_K_TAIL, F4_K_LONG, F4_K_FIT, F4_K_EARLY), mainSeries(MAGENTA, F4_M, F4_M_TAIL, F4_M_LONG, F4_M_FIT, F4_M_EARLY)]} />
      <Panel inset l={258} r={650} t={367} b={577} xDomain={[-0.106, 5.106]} yDomain={[0, 1.79]} xTicks={INSET_X_TICKS} xMajor={INSET_X_MAJOR}
        yTicks={F4_IN_TICKS} yMajor={F4_IN_MAJOR} yLabels={F4_IN_LABELS}
        series={[insetSeries(BLACK, F4_K, F4_K_TAIL, F4_K_INSET_FIT), insetSeries(MAGENTA, F4_M, F4_M_TAIL, F4_M_INSET_FIT)]} />

      {/* Floor 3 */}
      <Panel l={697} r={1250} t={367} b={667} xDomain={[-4.6, 505.5]} yDomain={[0, 1.2]} xTicks={MAIN_X_TICKS} xMajor={MAIN_X_MAJOR}
        yTicks={F3_Y_TICKS} yMajor={F3_Y_MAJOR} yLabels={F3_Y_LABELS}
        series={[mainSeries(BLACK, F3_K, F3_K_TAIL, F3_K_LONG, F3_K_FIT), mainSeries(RED, F3_R, F3_R_TAIL, F3_R_LONG, F3_R_FIT, F3_R_EARLY), mainSeries(MAGENTA, F3_M, F3_M_TAIL, F3_M_LONG, F3_M_FIT, F3_M_EARLY)]} />
      <Panel inset l={858} r={1250} t={367} b={595} xDomain={[-0.093, 5.12]} yDomain={[0, 1.253]} xTicks={INSET_X_TICKS} xMajor={INSET_X_MAJOR}
        yTicks={F3_IN_TICKS} yMajor={F3_IN_MAJOR} yLabels={F3_IN_LABELS}
        series={[insetSeries(BLACK, F3_K, F3_K_TAIL, F3_K_INSET_FIT), insetSeries(RED, F3_R, F3_R_TAIL, F3_R_INSET_FIT), insetSeries(MAGENTA, F3_M, F3_M_TAIL, F3_M_INSET_FIT)]} />

      {/* Floor 2 */}
      <Panel l={101} r={650} t={705} b={1005} xDomain={[-5.6, 504.6]} yDomain={[-0.109, 0.6]} xTicks={MAIN_X_TICKS} xMajor={MAIN_X_MAJOR}
        yTicks={F2_Y_TICKS} yMajor={F2_Y_MAJOR} yLabels={F2_Y_LABELS}
        series={[mainSeries(GREEN, F2_G, F2_G_TAIL, F2_G_LONG, F2_G_FIT), mainSeries(BLACK, F2_K, F2_K_TAIL, F2_K_LONG, F2_K_FIT), mainSeries(RED, F2_R, F2_R_TAIL, F2_R_LONG, F2_R_FIT), mainSeries(MAGENTA, F2_M, F2_M_TAIL, F2_M_LONG, F2_M_FIT)]} />
      <Panel inset l={308} r={650} t={705} b={854} xDomain={[-0.106, 5.09]} yDomain={[-0.2, 0.584]} xTicks={INSET_X_TICKS} xMajor={INSET_X_MAJOR}
        yTicks={F2_IN_TICKS} yMajor={F2_IN_MAJOR} yLabels={F2_IN_LABELS} mark={2.6}
        series={[insetSeries(GREEN, F2_G, F2_G_TAIL, F2_G_INSET_FIT), insetSeries(BLACK, F2_K, F2_K_TAIL, F2_K_INSET_FIT), insetSeries(RED, F2_R, F2_R_TAIL, F2_R_INSET_FIT), insetSeries(MAGENTA, F2_M, F2_M_TAIL, F2_M_INSET_FIT)]} />

      {/* Floor 1 */}
      <Panel l={689} r={1250} t={705} b={1007} xDomain={[-5.5, 505.5]} yDomain={[0, 0.293]} xTicks={MAIN_X_TICKS} xMajor={MAIN_X_MAJOR} xGap={19}
        yTicks={F1_Y_TICKS} yMajor={F1_Y_MAJOR} yLabels={F1_Y_LABELS}
        series={[mainSeries(BLUE, F1_B, F1_B_TAIL, F1_B_LONG, F1_B_FIT), mainSeries(GREEN, F1_G, F1_G_TAIL, F1_G_LONG, F1_G_FIT), mainSeries(BLACK, F1_K, F1_K_TAIL, F1_K_LONG, F1_K_FIT), mainSeries(RED, F1_R, F1_R_TAIL, F1_R_LONG, F1_R_FIT), mainSeries(MAGENTA, F1_M, F1_M_TAIL, F1_M_LONG, F1_M_FIT)]} />
      <Panel inset l={1017} r={1250} t={705} b={808} xDomain={[-0.158, 5.113]} yDomain={[-0.1, 0.281]} xTicks={INSET_X_TICKS} xMajor={INSET_X_MAJOR} xGap={13}
        yTicks={F1_IN_TICKS} yMajor={F1_IN_MAJOR} yLabels={F1_IN_LABELS} mark={1.8}
        series={[insetSeries(BLUE, F1_B, F1_B_TAIL, F1_B_INSET_FIT), insetSeries(GREEN, F1_G, F1_G_TAIL, F1_G_INSET_FIT), insetSeries(BLACK, F1_K, F1_K_TAIL, F1_K_INSET_FIT), insetSeries(RED, F1_R, F1_R_TAIL, F1_R_INSET_FIT), insetSeries(MAGENTA, F1_M, F1_M_TAIL, F1_M_INSET_FIT)]} />

      <Caption x={939} y={31}>Floor 5</Caption>
      <Caption x={162} y={391}>Floor 4</Caption>
      <Caption x={938} y={395}>Floor 3</Caption>
      <Caption x={162} y={729}>Floor 2</Caption>
      <Caption x={937} y={730}>Floor 1</Caption>
      <Caption x={624} y={173} rotate>Intensity (a.u.)</Caption>
      <Caption x={24} y={531} size={22}  rotate>Intensity (a.u.)</Caption>
      <Caption x={24} y={867} size={22} rotate>Intensity (a.u.)</Caption>
      <Caption x={79} y={198} rotate size={22}>Floor</Caption>
      <Caption x={376} y={1052} size={22}>Time (ps)</Caption>
      <Caption x={969} y={1060} size={22}>Time (ps)</Caption>
    </div>
  );
}
